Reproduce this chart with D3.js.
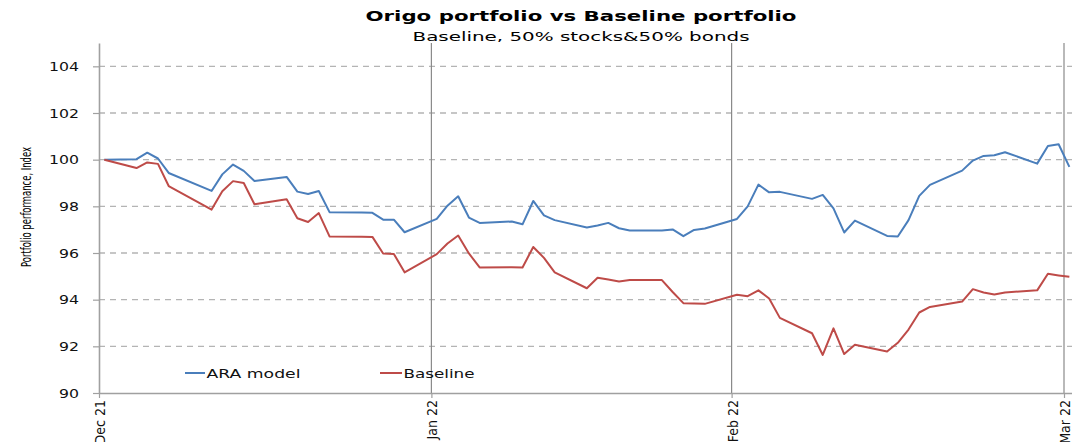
<!DOCTYPE html>
<html><head><meta charset="utf-8">
<script src="https://cdn.jsdelivr.net/npm/d3@7"></script>
<style>body{margin:0;background:#fff}svg{display:block}</style>
</head><body>
<svg id="c" width="1072" height="442"></svg>
<script>
const dates = [
 "2021-12-31",
 "2022-01-03","2022-01-04","2022-01-05","2022-01-06","2022-01-10","2022-01-11","2022-01-12","2022-01-13","2022-01-14",
 "2022-01-17","2022-01-18","2022-01-19","2022-01-20","2022-01-21","2022-01-24","2022-01-25","2022-01-26","2022-01-27","2022-01-28","2022-01-31",
 "2022-02-01","2022-02-02","2022-02-03","2022-02-04","2022-02-07","2022-02-08","2022-02-09","2022-02-10","2022-02-11",
 "2022-02-14","2022-02-15","2022-02-16","2022-02-17","2022-02-18","2022-02-21","2022-02-22","2022-02-23","2022-02-24","2022-02-25","2022-02-28",
 "2022-03-01","2022-03-02","2022-03-03","2022-03-04","2022-03-07","2022-03-08","2022-03-09","2022-03-10","2022-03-11",
 "2022-03-14","2022-03-15","2022-03-16","2022-03-17","2022-03-18","2022-03-21","2022-03-22","2022-03-23","2022-03-24","2022-03-25",
 "2022-03-28","2022-03-29","2022-03-30","2022-03-31"
];
const araModel = [
 100.00,
 100.02,100.30,100.05,99.43,98.66,99.37,99.79,99.52,99.09,
 99.26,98.63,98.53,98.66,97.75,97.74,97.72,97.43,97.43,96.89,97.46,
 98.03,98.43,97.52,97.29,97.35,97.23,98.23,97.61,97.41,
 97.09,97.18,97.29,97.06,96.96,96.96,97.01,96.72,96.99,97.05,97.46,
 98.00,98.93,98.60,98.62,98.32,98.49,97.91,96.88,97.39,
 96.73,96.71,97.41,98.45,98.92,99.53,99.96,100.16,100.19,100.32,
 99.83,100.59,100.66,99.69
];
const baseline = [
 100.00,
 99.64,99.88,99.82,98.87,97.86,98.65,99.08,99.00,98.09,
 98.30,97.49,97.33,97.71,96.71,96.70,96.69,95.98,95.96,95.17,95.95,
 96.41,96.75,95.98,95.38,95.39,95.38,96.26,95.79,95.17,
 94.49,94.94,94.86,94.78,94.84,94.84,94.33,93.85,93.84,93.82,94.21,
 94.15,94.40,94.05,93.22,92.56,91.63,92.77,91.67,92.07,
 91.78,92.15,92.72,93.45,93.69,93.92,94.45,94.31,94.22,94.31,
 94.40,95.11,95.04,94.98
];
const yTicks = [90,92,94,96,98,100,102,104];
const monthTicks = ["2021-12-31","2022-01-31","2022-02-28","2022-03-31"];
const seriesNames = ["ARA model","Baseline"];
const colors = ["#4a7ebb","#be4b48"];

const parse = d3.utcParse("%Y-%m-%d");
const dts = dates.map(parse);
const ticks = monthTicks.map(parse);

const svg = d3.select("#c");
const left = 99, rightEdge = 1072;
const x = d3.scaleUtc().domain([ticks[0], ticks[3]]).range([99, 1064]);
const y = d3.scaleLinear().domain([90, 105]).range([393, 43]);
const px = d => x(d3.utcHour.offset(d, 12));

// horizontal dashed gridlines
svg.append("g").selectAll("line").data(yTicks.filter(v => v > 90)).join("line")
  .attr("x1", left).attr("x2", rightEdge)
  .attr("y1", d => y(d)).attr("y2", d => y(d))
  .attr("stroke", "#b4b4b4").attr("stroke-width", 1.3).attr("stroke-dasharray", "6,5");

// vertical month lines
svg.append("g").selectAll("line").data(ticks.slice(1)).join("line")
  .attr("x1", d => x(d)).attr("x2", d => x(d))
  .attr("y1", y(105)).attr("y2", y(90))
  .attr("stroke", "#8a8a8a").attr("stroke-width", 1.2);

// y axis
const yAxis = svg.append("g").attr("transform", `translate(${left},0)`)
  .call(d3.axisLeft(y).tickValues(yTicks).tickSize(6).tickSizeOuter(0).tickPadding(14));
yAxis.select(".domain").attr("stroke", "#a0a0a0").attr("stroke-width", 1.6);
yAxis.selectAll(".tick line").attr("stroke", "#a0a0a0").attr("stroke-width", 1.2);
yAxis.selectAll(".tick text")
  .attr("font-family", "DejaVu Sans, Verdana, sans-serif").attr("font-size", 13)
  .attr("fill", "#111")
  .attr("textLength", d => String(d).length * 10).attr("lengthAdjust", "spacingAndGlyphs");

// x axis
const xAxis = svg.append("g").attr("transform", `translate(0,${y(90)})`)
  .call(d3.axisBottom(x).tickValues(ticks).tickFormat(d3.utcFormat("%b %y")).tickSize(5).tickSizeOuter(0));
xAxis.select(".domain").attr("d", `M${left},0.5H${rightEdge}`).attr("stroke", "#a0a0a0").attr("stroke-width", 1.6);
xAxis.selectAll(".tick line").attr("stroke", "#a0a0a0").attr("stroke-width", 1.2);
xAxis.selectAll(".tick text")
  .attr("font-family", "Liberation Sans Narrow, DejaVu Sans Condensed, sans-serif").attr("font-size", 14)
  .attr("fill", "#111")
  .attr("transform", "rotate(-90)")
  .attr("text-anchor", "end")
  .attr("x", -7).attr("y", 5.5).attr("dy", 0);

// lines
const line = d3.line().x((d, i) => px(dts[i])).y(d => y(d));
[araModel, baseline].forEach((s, k) => {
  svg.append("path").datum(s).attr("d", line)
    .attr("fill", "none").attr("stroke", colors[k]).attr("stroke-width", 2)
    .attr("stroke-linejoin", "round");
});

// titles
svg.append("text").attr("x", 581).attr("y", 21).attr("text-anchor", "middle")
  .attr("font-family", "DejaVu Sans, Verdana, sans-serif").attr("font-weight", "bold").attr("font-size", 14.5)
  .attr("textLength", 431).attr("lengthAdjust", "spacingAndGlyphs")
  .text("Origo portfolio vs Baseline portfolio");
svg.append("text").attr("x", 581).attr("y", 40.5).attr("text-anchor", "middle")
  .attr("font-family", "DejaVu Sans, Verdana, sans-serif").attr("font-size", 12.5)
  .attr("textLength", 337).attr("lengthAdjust", "spacingAndGlyphs")
  .text("Baseline, 50% stocks&50% bonds");
svg.append("text").attr("transform", "translate(30.5,207) rotate(-90)").attr("text-anchor", "middle")
  .attr("font-family", "Liberation Sans Narrow, DejaVu Sans Condensed, sans-serif").attr("font-size", 14)
  .attr("textLength", 120).attr("lengthAdjust", "spacingAndGlyphs")
  .text("Portfolio performance, Index");

// legend
const legendItems = [{x: 185, w: 20, tl: 94}, {x: 380, w: 22, tl: 71}];
legendItems.forEach((it, k) => {
  svg.append("line").attr("x1", it.x).attr("x2", it.x + it.w).attr("y1", 373).attr("y2", 373)
    .attr("stroke", colors[k]).attr("stroke-width", 2);
  svg.append("text").attr("x", it.x + it.w + 1.5).attr("y", 377.5)
    .attr("font-family", "DejaVu Sans, Verdana, sans-serif").attr("font-size", 12.3).attr("fill", "#111")
    .attr("textLength", it.tl).attr("lengthAdjust", "spacingAndGlyphs")
    .text(seriesNames[k]);
});
</script>
</body></html>
